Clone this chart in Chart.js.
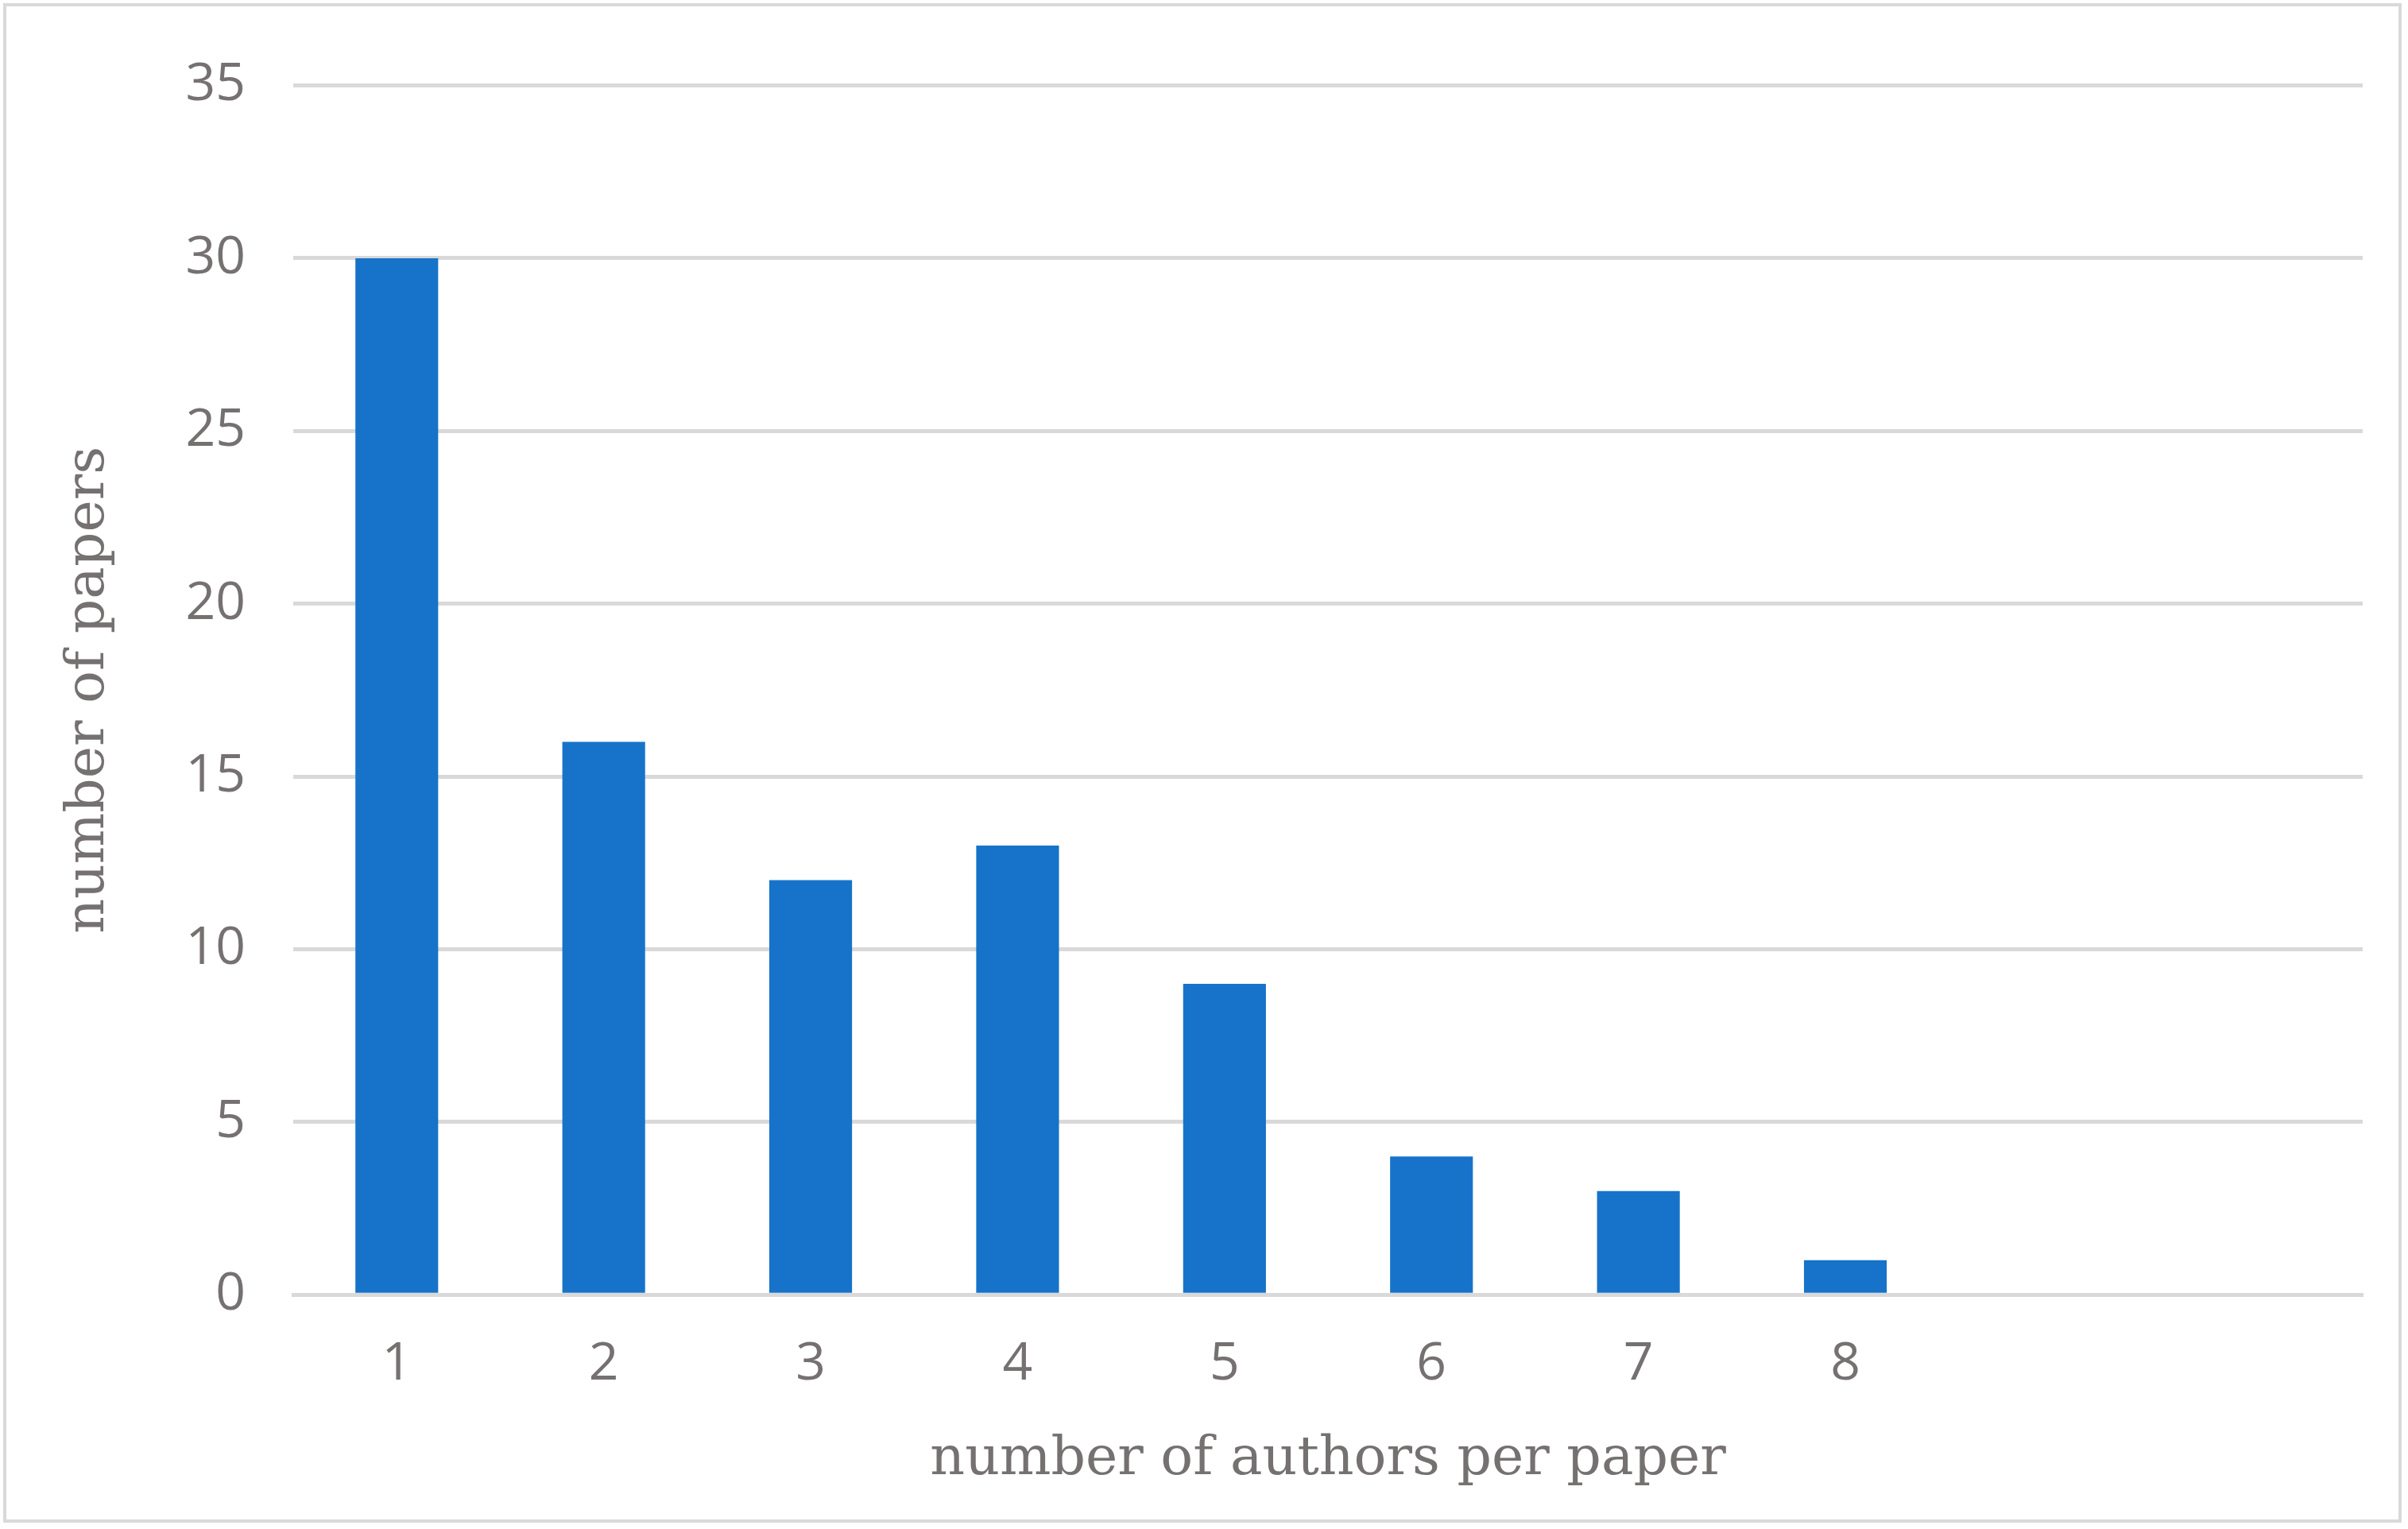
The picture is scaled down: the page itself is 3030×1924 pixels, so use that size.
<!DOCTYPE html>
<html lang="en">
<head>
  <meta charset="UTF-8" />
  <title>Authors per paper</title>
  <script src="https://cdn.jsdelivr.net/npm/chart.js"></script>
  <style>
    body { margin: 0; background: white; }
    #wrap {
      position: absolute; left: 4px; top: 4px;
      width: 3018px; height: 1912px;
      border: 4px solid #d9d9d9; box-sizing: border-box;
    }
  </style>
</head>
<body>
  <div id="wrap"><canvas id="chart"></canvas></div>
  <script>
    const categories = ["1", "2", "3", "4", "5", "6", "7", "8", "", ""];
    const papers = [30, 16, 12, 13, 9, 4, 3, 1, null, null];

    new Chart("chart", {
      type: "bar",
      data: {
        labels: categories,
        datasets: [{
          label: "number of papers",
          data: papers,
          backgroundColor: "#1773C9",
          barPercentage: 1,
          categoryPercentage: 0.4
        }]
      },
      options: {
        responsive: true,
        maintainAspectRatio: false,
        animation: false,
        layout: { padding: { left: 60, right: 45, top: 70, bottom: 30 } },
        plugins: { legend: { display: false }, tooltip: { enabled: false } },
        scales: {
          x: {
            grid: { display: false },
            border: { color: "#d9d9d9", width: 5 },
            ticks: { color: "#767171", font: { family: "Open Sans", size: 66 }, padding: 40 },
            title: {
              display: true, text: "number of authors per paper", color: "#767171",
              font: { family: "DejaVu Serif", size: 68 }, padding: { top: 0 }
            }
          },
          y: {
            min: 0, max: 35,
            ticks: { stepSize: 5, color: "#767171", font: { family: "Open Sans", size: 66 }, padding: 60 },
            grid: { color: "#d9d9d9", lineWidth: 5, drawTicks: false },
            border: { display: false },
            title: {
              display: true, text: "number of papers", color: "#767171",
              font: { family: "DejaVu Serif", size: 68 }, padding: { bottom: 20 }
            }
          }
        }
      }
    });
  </script>
</body>
</html>
